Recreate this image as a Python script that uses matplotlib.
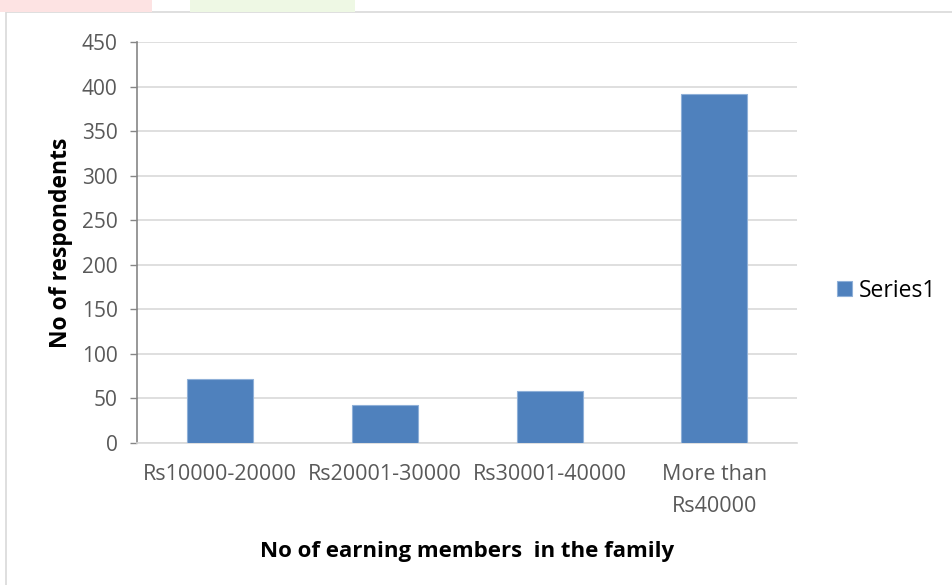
import numpy as np
import matplotlib.pyplot as plt
from matplotlib.patches import Rectangle

# 收入分组与受访人数
categories = ['Rs10000-20000', 'Rs20001-30000', 'Rs30001-40000', 'More than\nRs40000']
respondents = [72, 43, 58, 392]
series_name = 'Series1'
y_ticks = [0, 50, 100, 150, 200, 250, 300, 350, 400, 450]

plt.rcParams['font.family'] = ['Open Sans', 'DejaVu Sans']

fig = plt.figure(figsize=(9.53, 5.85), dpi=100)
fig.patch.set_facecolor('white')

# 外框
fig.patches.append(Rectangle((6 / 953, -0.1), 1.2, 1 - 12 / 585 + 0.1,
                             transform=fig.transFigure, fill=False,
                             edgecolor='#d9d9d9', linewidth=1.2))
# 顶部水印残影
fig.patches.append(Rectangle((0, 1 - 12 / 585), 152 / 953, 12 / 585,
                             transform=fig.transFigure, facecolor='#fde3e3',
                             edgecolor='none'))
fig.patches.append(Rectangle((190 / 953, 1 - 12 / 585), 165 / 953, 12 / 585,
                             transform=fig.transFigure, facecolor='#eef8e4',
                             edgecolor='none'))

ax = fig.add_axes([137 / 953, 1 - 443 / 585, 660 / 953, 401 / 585])
x = np.arange(len(categories))
bars = ax.bar(x, respondents, width=0.4, color='#4f81bd', edgecolor='#8fb0d8',
              linewidth=0.8, label=series_name, zorder=3)

ax.set_xlim(-0.5, len(categories) - 0.5)
ax.set_ylim(0, 450)
ax.set_yticks(y_ticks)
ax.set_xticks(x)
ax.set_xticklabels(categories, fontsize=15.5, color='#595959', linespacing=1.7)
ax.tick_params(axis='y', labelsize=15, labelcolor='#595959', length=5,
               color='#868686', width=1, pad=9)
ax.tick_params(axis='x', length=0, pad=15)
ax.yaxis.grid(True, color='#d9d9d9', linewidth=1.2, zorder=0)
ax.set_axisbelow(True)

for side in ['top', 'right']:
    ax.spines[side].set_visible(False)
ax.spines['left'].set_color('#868686')
ax.spines['left'].set_linewidth(1.2)
ax.spines['bottom'].set_color('#d9d9d9')
ax.spines['bottom'].set_linewidth(1.2)

ax.set_ylabel('No of respondents', fontsize=16.5, fontweight='bold', labelpad=6)
ax.set_xlabel('No of earning members  in the family', fontsize=16,
              fontweight='bold', labelpad=17)

ax.legend(loc='center left', bbox_to_anchor=(1.03, 0.38), frameon=False,
          fontsize=16.5, handlelength=0.65, handleheight=0.65, handletextpad=0.3)

plt.savefig('out.png', dpi=100)
